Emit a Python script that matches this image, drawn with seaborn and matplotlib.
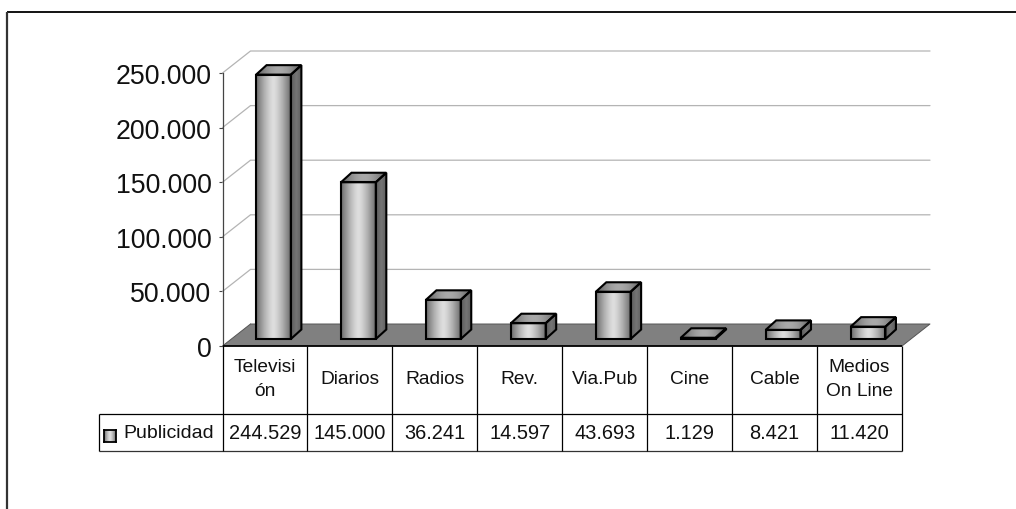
import numpy as np
import pandas as pd
import matplotlib
matplotlib.use("Agg")
import matplotlib.pyplot as plt
from matplotlib.lines import Line2D
from matplotlib.patches import Polygon
from matplotlib.transforms import Affine2D, IdentityTransform
import seaborn as sns

# Advertising spend by medium
medios = ["Televisión", "Diarios", "Radios", "Rev.", "Via.Pub", "Cine", "Cable", "Medios On Line"]
etiquetas = ["Televisi\nón", "Diarios", "Radios", "Rev.", "Via.Pub", "Cine", "Cable", "Medios\nOn Line"]
publicidad = [244529, 145000, 36241, 14597, 43693, 1129, 8421, 11420]
serie = "Publicidad"
y_ticks = [0, 50000, 100000, 150000, 200000, 250000]

W, H = 1016, 510
sns.set_theme(style="white")
plt.rcParams["font.family"] = ["Liberation Sans", "DejaVu Sans"]


def miles(v):
    return f"{v:,}".replace(",", ".")


fig = plt.figure(figsize=(W / 100, H / 100), dpi=100, facecolor="white")
# plot frame in pixels, measured from the top-left corner
L, R, T, B = 222.5, 902, 74, 347
ax = fig.add_axes([L / W, 1 - B / H, (R - L) / W, (B - T) / H])
ax.patch.set_visible(False)

tabla = pd.DataFrame({"medio": medios, "valor": publicidad})
sns.barplot(data=tabla, x="medio", y="valor", order=medios, color="white",
            width=0.41, edgecolor="black", linewidth=1.5, saturation=1,
            zorder=6, ax=ax, clip_on=False)
ax.set_xlim(-0.5, 7.5)
ax.set_ylim(0, 250000)
ax.set_xlabel("")
ax.set_ylabel("")
ax.set_xticks([])
ax.set_yticks(y_ticks)
ax.set_yticklabels([miles(v) for v in y_ticks], fontsize=19.2, color="#111111")
ax.tick_params(axis="y", length=3, width=0.8, color="#444444", pad=5, left=True)
for lado in ("top", "right", "bottom"):
    ax.spines[lado].set_visible(False)
ax.spines["left"].set_color("#444444")
ax.spines["left"].set_linewidth(0.9)

# pixel coordinates with the origin at the top-left corner
px = Affine2D().scale(1, -1).translate(0, H)


def linea(xs, ys, color="black", lw=0.8, z=1):
    fig.add_artist(Line2D(xs, ys, transform=px, color=color, lw=lw, zorder=z,
                          solid_capstyle="butt"))


# chart frame: only the top and left edges show
linea([7, W], [13, 13], lw=1.3)
linea([7, 7], [13, H], color="#333333", lw=1.6)

# back wall gridlines and floor of the 3D box
FX, FY = 28, 22
for v in y_ticks[1:]:
    gy = B - (B - T) * v / 250000
    ax.plot([L, L + FX, R + FX], [gy, gy - FY, gy - FY], transform=px,
            color="#b4b4b4", lw=0.9, zorder=1, clip_on=False)
ax.add_patch(Polygon([(L, B), (L + FX, B - FY), (R + FX, B - FY), (R, B)], closed=True,
                     transform=px, facecolor="#808080", edgecolor="none", zorder=2,
                     clip_on=False))
ax.plot([L + FX, R + FX, R], [B - FY, B - FY, B], transform=px, color="#555555", lw=0.7,
        zorder=2, clip_on=False)
ax.plot([L + FX, L], [B - FY, B], transform=px, color="#555555", lw=0.7, zorder=2, clip_on=False)

# bars stand part-way into the floor, so they shift right and up
DX, DY = 8.5, 7.0
ESC = 0.99
base_y = H - B
barra_tf = (ax.transData + Affine2D().translate(0, -base_y).scale(1, ESC)
            .translate(DX, base_y + DY))
BX, BY = 10.5, 9.5

t = np.linspace(0, 1, 64)
perfil_frente = 1 - np.abs(2 * t - 1) ** 1.4
grad_frente = (0.42 + 0.45 * perfil_frente).reshape(1, -1)
grad_lado = (0.36 + 0.10 * (1 - np.abs(2 * t - 1))).reshape(1, -1)
grad_tapa = (0.36 + 0.30 * np.sin(np.pi * t)).reshape(1, -1)


def relleno(grad, poly, z):
    xs, ys = np.array(poly).T
    img = ax.imshow(grad, extent=(xs.min(), xs.max(), ys.min(), ys.max()), aspect="auto",
                    cmap="gray", vmin=0, vmax=1, transform=IdentityTransform(),
                    zorder=z, interpolation="bilinear")
    # faces may rise above the axes box, so only the polygon clips them
    img.set_clip_box(fig.bbox)
    img.set_clip_path(Polygon(poly, closed=True, transform=IdentityTransform()))


for barra in ax.patches[:len(publicidad)]:
    barra.set_transform(barra_tf)
    barra.set_facecolor("none")
    barra.set_joinstyle("miter")
    x0, w, h = barra.get_x(), barra.get_width(), barra.get_height()
    (a_x, a_y), (b_x, b_y) = barra_tf.transform([(x0, 0), (x0 + w, h)])
    frente = [(a_x, a_y), (b_x, a_y), (b_x, b_y), (a_x, b_y)]
    lado = [(b_x, a_y), (b_x + BX, a_y + BY), (b_x + BX, b_y + BY), (b_x, b_y)]
    tapa = [(a_x, b_y), (b_x, b_y), (b_x + BX, b_y + BY), (a_x + BX, b_y + BY)]
    relleno(grad_frente, frente, 4)
    relleno(grad_lado, lado, 4)
    relleno(grad_tapa, tapa, 4)
    for poly in (lado, tapa):
        ax.add_patch(Polygon(poly, closed=True, transform=IdentityTransform(), facecolor="none",
                             edgecolor="black", lw=1.5, joinstyle="miter", zorder=5, clip_on=False))

ax.set_xlim(-0.5, 7.5)
ax.set_ylim(0, 250000)

# data table under the plot
FILA1, FILA2 = 414.5, 451.5
ancho = (R - L) / len(medios)
linea([L, R], [B, B], lw=1.3, z=3)
linea([98.5, R], [FILA1, FILA1], lw=0.9)
linea([98.5, R], [FILA2, FILA2], color="#333333", lw=0.9)
linea([98.5, 98.5], [FILA1, FILA2], lw=0.9)
for i in range(len(medios) + 1):
    linea([L + i * ancho] * 2, [B, FILA2], lw=0.9)

for i, (et, val) in enumerate(zip(etiquetas, publicidad)):
    cx = L + (i + 0.5) * ancho
    fig.text(cx, (B + FILA1) / 2 - 1, et, transform=px, ha="center", va="center",
             fontsize=13.8, color="#111111", linespacing=1.5)
    fig.text(cx, (FILA1 + FILA2) / 2 + 0.5, miles(val), transform=px, ha="center", va="center",
             fontsize=14.4, color="#111111")

fig.text(123, (FILA1 + FILA2) / 2 + 1, serie, transform=px, ha="left", va="center",
         fontsize=14, color="#111111")

# legend key for the single series
clave = fig.add_axes([104 / W, 1 - 443 / H, 12 / W, 12 / H])
clave.imshow(grad_frente, aspect="auto", cmap="gray", vmin=0, vmax=1)
clave.set_xticks([])
clave.set_yticks([])
for s in clave.spines.values():
    s.set_color("black")
    s.set_linewidth(1.3)

fig.savefig("out.png", dpi=100, facecolor="white")
